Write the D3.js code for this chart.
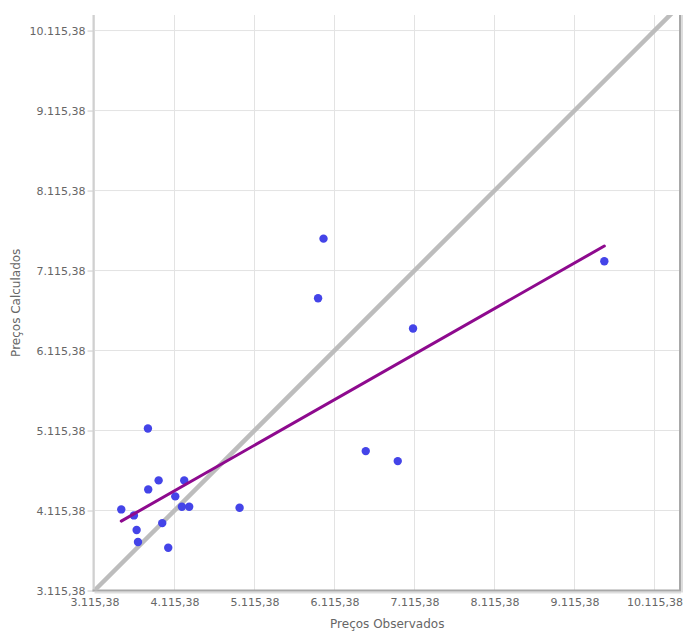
<!DOCTYPE html>
<html>
<head>
<meta charset="utf-8">
<script src="https://cdn.jsdelivr.net/npm/d3@7"></script>
<style>
  html, body { margin: 0; padding: 0; background: #fff; }
  svg { display: block; }
</style>
</head>
<body>
<svg id="chart" width="684" height="632"></svg>
<script>
// ---- Data ----
const observed = [3783, 3450, 3608, 3642, 3659, 3787, 3917, 3962, 4037, 4125, 4237, 4208, 4299, 4929, 5978, 5910, 7097, 6506, 6906, 9488];
const calculated = [5141, 4129, 4054, 3871, 3721, 4379, 4492, 3958, 3650, 4292, 4492, 4162, 4162, 4149, 7514, 6769, 6390, 4858, 4733, 7231];
const trendX = [3450, 9488];
const trendY = [3983, 7422];
const tickValues = [3115.38, 4115.38, 5115.38, 6115.38, 7115.38, 8115.38, 9115.38, 10115.38];
const xDomain = [3115.38, 10434];
const yDomain = [3115.38, 10310];
const xTitle = "Preços Observados";
const yTitle = "Preços Calculados";

(function () {
// ---- Layout ----
const svg = d3.select("#chart");
const pL = 94.5, pR = 680, pT = 15, pB = 590.5;

const x = d3.scaleLinear().domain(xDomain).range([pL, pR]);
const y = d3.scaleLinear().domain(yDomain).range([pB, pT]);

const loc = d3.formatLocale({decimal: ",", thousands: ".", grouping: [3], currency: ["R$", ""]});
const fmt = loc.format(",.2f");

const font = "'DejaVu Sans', Verdana, sans-serif";

const defs = svg.append("defs");
defs.append("clipPath").attr("id", "clip")
  .append("rect").attr("x", pL).attr("y", pT).attr("width", pR - pL).attr("height", pB - pT);
defs.append("filter").attr("id", "soft")
  .append("feGaussianBlur").attr("stdDeviation", 0.6);

// gridlines
const grid = svg.append("g");
grid.selectAll(".gx").data(tickValues).join("line").attr("class", "gx")
  .attr("x1", d => x(d)).attr("x2", d => x(d))
  .attr("y1", pT).attr("y2", pB)
  .attr("stroke", "#e3e3e3").attr("stroke-width", 1);
grid.selectAll(".gy").data(tickValues).join("line").attr("class", "gy")
  .attr("x1", pL).attr("x2", pR)
  .attr("y1", d => y(d)).attr("y2", d => y(d))
  .attr("stroke", "#e3e3e3").attr("stroke-width", 1);

// Y axis
const yAxis = d3.axisLeft(y).tickValues(tickValues).tickFormat(fmt).tickSize(6).tickPadding(2);
const gy = svg.append("g").attr("transform", `translate(${pL - 1},0)`).call(yAxis);
gy.select(".domain").remove();
gy.selectAll(".tick line").attr("stroke", "#cccccc");
gy.selectAll(".tick text").attr("fill", "#666").style("font-family", font).style("font-size", "11px");

// X axis
const xAxis = d3.axisBottom(x).tickValues(tickValues).tickFormat(fmt).tickSize(0).tickPadding(8);
const gx = svg.append("g").attr("transform", `translate(0,${pB})`).call(xAxis);
gx.select(".domain").remove();
gx.selectAll(".tick text").attr("fill", "#666").style("font-family", font).style("font-size", "11px");

// axis lines
svg.append("line").attr("x1", pL - 1).attr("x2", pL - 1).attr("y1", pT).attr("y2", pB + 1)
  .attr("stroke", "#d0d0d0").attr("stroke-width", 2);
svg.append("line").attr("x1", pL).attr("x2", pR + 1).attr("y1", pB + 2).attr("y2", pB + 2)
  .attr("stroke", "#dddddd").attr("stroke-width", 2);
svg.append("line").attr("x1", pL - 2).attr("x2", pR + 1).attr("y1", pB).attr("y2", pB)
  .attr("stroke", "#a8a8a8").attr("stroke-width", 2);
svg.append("line").attr("x1", pR + 2).attr("x2", pR + 2).attr("y1", pT).attr("y2", pB + 2)
  .attr("stroke", "#dddddd").attr("stroke-width", 2);
svg.append("line").attr("x1", pR).attr("x2", pR).attr("y1", pT).attr("y2", pB)
  .attr("stroke", "#a8a8a8").attr("stroke-width", 2);

// plot content
const plot = svg.append("g").attr("clip-path", "url(#clip)");

// identity line
const idLine = d3.line().x(d => x(d)).y(d => y(d));
plot.append("path").datum([xDomain[0], Math.max(xDomain[1], yDomain[1])])
  .attr("d", idLine).attr("fill", "none")
  .attr("stroke", "#bdbdbd").attr("stroke-width", 4.5).attr("filter", "url(#soft)");

// points
const pts = observed.map((v, i) => [v, calculated[i]]);
plot.selectAll("circle").data(pts).join("circle")
  .attr("cx", d => x(d[0])).attr("cy", d => y(d[1])).attr("r", 4.2)
  .attr("fill", "#4444e8");

// trend line
const tLine = d3.line().x(d => x(d[0])).y(d => y(d[1]));
plot.append("path").datum(trendX.map((v, i) => [v, trendY[i]]))
  .attr("d", tLine).attr("fill", "none")
  .attr("stroke", "#8e0a8e").attr("stroke-width", 3).attr("stroke-linecap", "round");

// titles
svg.append("text").attr("x", (pL + pR) / 2).attr("y", 628)
  .attr("text-anchor", "middle").attr("fill", "#666")
  .style("font-family", font).style("font-size", "12px").text(xTitle);
svg.append("text").attr("transform", `translate(20,${(pT + pB) / 2}) rotate(-90)`)
  .attr("text-anchor", "middle").attr("fill", "#666")
  .style("font-family", font).style("font-size", "12px").text(yTitle);
})();
</script>
</body>
</html>
